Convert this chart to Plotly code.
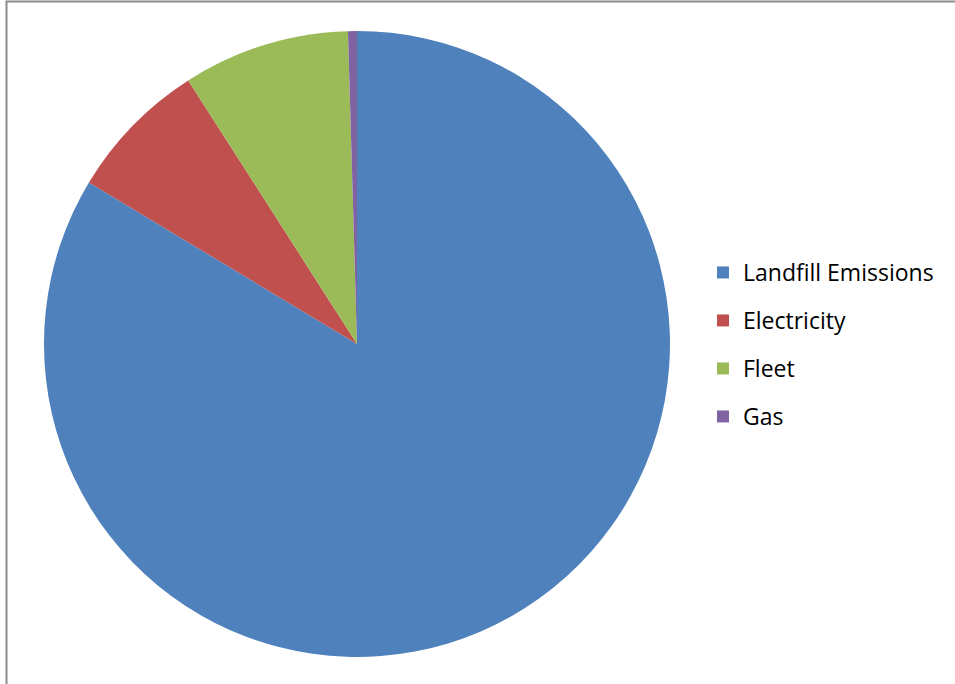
import plotly.graph_objects as go

labels = ["Landfill Emissions", "Electricity", "Fleet", "Gas"]
values = [83.6, 7.3, 8.6, 0.46]
colors = ["#4F81BD", "#C0504D", "#9BBB59", "#8064A2"]

W, H = 955, 684

fig = go.Figure()
fig.add_trace(go.Pie(
    labels=labels, values=values, sort=False, direction="clockwise", rotation=0,
    marker=dict(colors=colors, line=dict(width=0)),
    textinfo="none", hoverinfo="label+percent", showlegend=False,
    domain=dict(x=[44 / W, 670 / W], y=[1 - 657 / H, 1 - 31 / H]),
))
for i, (lab, col) in enumerate(zip(labels, colors)):
    fig.add_trace(go.Scatter(
        x=[None], y=[None], mode="markers", name=lab, legendgroup=f"g{i}",
        marker=dict(symbol="square", size=12, color=col),
    ))

fig.add_shape(type="rect", xref="paper", yref="paper",
              x0=6.5 / W, x1=1.2, y0=-0.2, y1=1 - 1.5 / H,
              line=dict(color="#8c8c8c", width=2))

fig.update_layout(
    width=W, height=H, margin=dict(l=0, r=0, t=0, b=0),
    paper_bgcolor="white", plot_bgcolor="white",
    xaxis=dict(visible=False), yaxis=dict(visible=False),
    font=dict(family="Open Sans, Lato, sans-serif", color="#000000"),
    legend=dict(x=703 / W, xanchor="left", y=1 - 251 / H, yanchor="top",
                font=dict(size=23), tracegroupgap=15.1, bgcolor="rgba(0,0,0,0)",
                itemclick=False),
)
fig.write_html("out.html")
